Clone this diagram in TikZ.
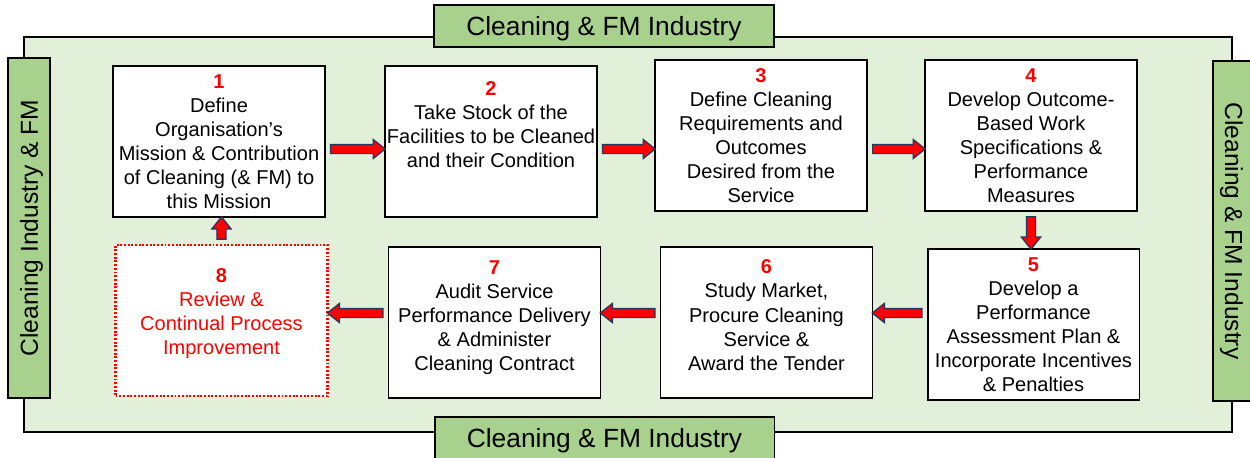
\documentclass[tikz,border=0pt]{standalone}
\usepackage{fontspec}
\setmainfont{Liberation Sans}
\usepackage{tikz}
\usetikzlibrary{calc,shapes.arrows}
\definecolor{framegreen}{HTML}{E2EFD9}
\definecolor{bandgreen}{HTML}{A9D18E}
\definecolor{arrowred}{HTML}{FF0000}
\definecolor{arrownavy}{HTML}{1F3864}
\newcommand{\stepno}[1]{{\color{red}\bfseries #1}}
\newcommand{\stepflow}[2]{%
  \path let \p1=($(#2)-(#1)$), \n1={veclen(\x1,\y1)-2pt} in (#1) -- (#2)
    node[flowarrow, midway, sloped, allow upside down, minimum height=\n1] {};}
\tikzset{
  frame/.style={draw=black, line width=1.1pt, fill=framegreen},
  band/.style={draw=black, line width=1.1pt, fill=bandgreen, inner sep=0pt, text depth=0pt,
    minimum width=6.8cm, minimum height=0.84cm, font=\fontsize{15pt}{18pt}\selectfont},
  sideband/.style={band, font=\fontsize{14pt}{17pt}\selectfont},
  stepbox/.style={draw=black, line width=1.1pt, fill=white, minimum width=4.24cm,
    minimum height=3.02cm, align=center, inner sep=1pt, font=\fontsize{11.4pt}{13.7pt}\selectfont},
  reviewbox/.style={stepbox, draw=red, densely dotted, line width=1.2pt, text=red},
  flowarrow/.style={single arrow, draw=arrownavy, fill=arrowred, line width=0.7pt,
    inner xsep=0pt, inner ysep=0.08cm, single arrow head extend=0.1cm, single arrow tip angle=77}
}
\begin{document}
\begin{tikzpicture}[x=0.02cm, y=-0.02cm]
  \useasboundingbox (0,0) rectangle (1250,457);
  \draw[frame] (24,37) rectangle (1232,432);
  \node[band] (topband) at (604,26) {Cleaning \& FM Industry};
  \node[band] (bottomband) at (604.5,438) {Cleaning \& FM Industry};
  \node[sideband, rotate=90] (leftband) at (29,228) {Cleaning Industry \& FM};
  \node[sideband, rotate=-90] (rightband) at (1234,231) {Cleaning \& FM Industry};

  \node[stepbox] (s1) at (219,141.5) {\stepno{1}\\Define\\Organisation’s\\Mission \& Contribution\\of Cleaning (\& FM) to\\this Mission};
  \node[stepbox] (s2) at (491,141.5) {\stepno{2}\\Take Stock of the\\Facilities to be Cleaned\\and their Condition\\[5.7pt]\mbox{}};
  \node[stepbox] (s3) at (761,135.5) {\stepno{3}\\Define Cleaning\\Requirements and\\Outcomes\\Desired from the\\Service};
  \node[stepbox] (s4) at (1031,135.5) {\stepno{4}\\Develop Outcome-\\Based Work\\Specifications \&\\Performance\\Measures};
  \node[stepbox] (s5) at (1033.5,324.5) {\stepno{5}\\Develop a\\Performance\\Assessment Plan \&\\Incorporate Incentives\\\& Penalties};
  \node[stepbox] (s6) at (766.5,322.5) {\stepno{6}\\Study Market,\\Procure Cleaning\\Service \&\\Award the Tender\\[-5.2pt]\mbox{}};
  \node[stepbox] (s7) at (494.5,322.5) {\stepno{7}\\Audit Service\\Performance Delivery\\\& Administer\\Cleaning Contract\\[-6.2pt]\mbox{}};
  \node[reviewbox] (s8) at (221.5,320.5) {\bfseries 8\\Review \&\\Continual Process\\Improvement\\[-3.4pt]\mbox{}};

  \coordinate (toprow) at (0,149);
  \coordinate (bottomrow) at (0,313);
  \stepflow{s1.east |- toprow}{s2.west |- toprow}
  \stepflow{s2.east |- toprow}{s3.west |- toprow}
  \stepflow{s3.east |- toprow}{s4.west |- toprow}
  \stepflow{s4.south}{s4.south |- s5.north}
  \stepflow{s5.west |- bottomrow}{s6.east |- bottomrow}
  \stepflow{s6.west |- bottomrow}{s7.east |- bottomrow}
  \stepflow{s7.west |- bottomrow}{s8.east |- bottomrow}
  \stepflow{s8.north}{s8.north |- s1.south}
\end{tikzpicture}
\end{document}
